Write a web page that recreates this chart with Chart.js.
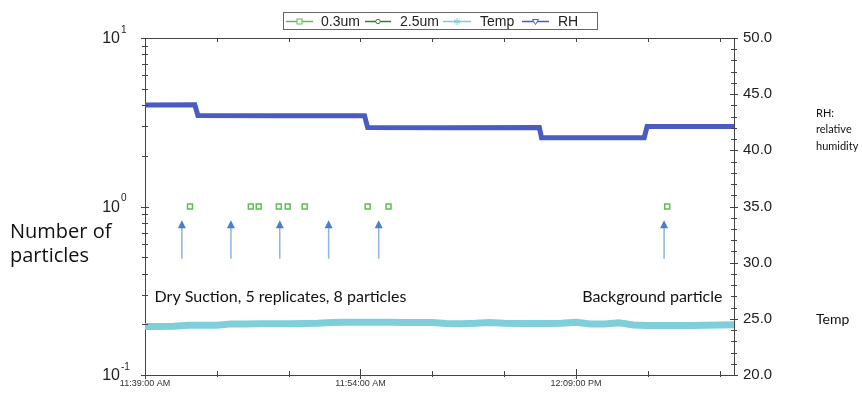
<!DOCTYPE html>
<html><head><meta charset="utf-8">
<script src="https://cdn.jsdelivr.net/npm/chart.js@4"></script>
<style>html,body{margin:0;padding:0;background:#fff;}#wrap{width:862px;height:393px;position:relative;}canvas{display:block;}</style>
</head><body><div id="wrap"><canvas id="c" width="862" height="393" style="width:862px;height:393px"></canvas></div>
<script>
// ---------- data ----------
const seriesNames = ["0.3um", "2.5um", "Temp", "RH"];
const xTickLabels = {0: "11:39:00 AM", 15: "11:54:00 AM", 30: "12:09:00 PM"};
const xStart = "11:39:00";
const xEnd = "12:20:00";
const leftTickLabels = [["10", "-1"], ["10", "0"], ["10", "1"]];
const leftTickValues = [0.1, 1, 10];

const p03Times = ["11:42:08","11:46:22","11:46:55","11:48:19","11:48:56","11:50:07","11:54:30","11:55:57","12:15:21"];
const p03Counts = [1, 1, 1, 1, 1, 1, 1, 1, 1];
const p25Times = [];
const p25Counts = [];

const tempTimes = ["11:39:00","11:40:00","11:41:00","11:42:00","11:43:00","11:44:00","11:45:00","11:46:00","11:47:00","11:48:00",
  "11:49:00","11:50:00","11:51:00","11:52:00","11:53:00","11:54:00","11:55:00","11:56:00","11:57:00","11:58:00",
  "11:59:00","12:00:00","12:01:00","12:02:00","12:03:00","12:04:00","12:05:00","12:06:00","12:07:00","12:08:00",
  "12:09:00","12:10:00","12:11:00","12:12:00","12:13:00","12:14:00","12:15:00","12:16:00","12:17:00","12:18:00",
  "12:19:00","12:20:00"];
const tempValues = [24.31,24.32,24.34,24.43,24.43,24.43,24.55,24.55,24.56,24.56,
  24.57,24.58,24.60,24.68,24.70,24.70,24.70,24.69,24.68,24.67,
  24.67,24.58,24.57,24.60,24.67,24.60,24.58,24.58,24.58,24.60,
  24.70,24.55,24.55,24.65,24.45,24.40,24.40,24.40,24.40,24.42,
  24.45,24.48];

const rhTimes = ["11:39:00","11:42:28","11:42:41","11:48:00","11:54:17","11:54:30","12:00:00","12:06:27","12:06:36","12:10:00","12:13:45","12:13:57","12:20:00"];
const rhValues = [44.04,44.05,43.10,43.08,43.07,42.03,42.02,42.03,41.13,41.12,41.13,42.12,42.12];

const arrowTimes = ["11:41:34","11:44:59","11:48:23","11:51:47","11:55:16","12:15:08"];
const arrowTail = 0.49, arrowTip = 0.83;

const notes = [
  {text: "Dry Suction, 5 replicates, 8 particles", t: "11:39:40", v: 0.29},
  {text: "Background particle", t: "12:09:26", v: 0.29}
];

// ---------- helpers ----------
const toBase = (() => { const [h, m, s] = xStart.split(":").map(Number); return h * 60 + m + s / 60; })();
function toMin(t) {
  const [h, m, s] = t.split(":").map(Number);
  return h * 60 + m + s / 60 - toBase;
}
const pts = (ts, vs) => ts.map((t, i) => ({x: toMin(t), y: vs[i]}));

const C03 = "#5cbf4c", C25 = "#2e7d32", CT = "#7ecfda", CRH = "#4a5cc2";
const AXIS = "#444";
const SANS = "'Liberation Sans', Arial, sans-serif";
const CAL = "Lato, 'Open Sans', sans-serif";

// ---------- plugin ----------
const deco = {
  id: "deco",
  afterDraw(chart) {
    const ctx = chart.ctx, a = chart.chartArea;
    const xs = chart.scales.x, yl = chart.scales.y, yr = chart.scales.y2;
    ctx.save();
    ctx.strokeStyle = AXIS; ctx.lineWidth = 1;
    ctx.beginPath(); ctx.moveTo(a.left, a.top + 0.5); ctx.lineTo(a.right, a.top + 0.5); ctx.stroke();
    for (let m = 0; m <= toMin(xEnd) + 1e-6; m += 5) {
      const px = Math.round(xs.getPixelForValue(m)) + 0.5;
      const big = (m % 15 === 0);
      ctx.beginPath();
      ctx.moveTo(px, a.bottom - (big ? 6 : 4)); ctx.lineTo(px, a.bottom + (big ? 4 : 2));
      ctx.moveTo(px, a.top); ctx.lineTo(px, a.top + 4);
      ctx.stroke();
    }
    for (let e = -1; e <= 1; e++) {
      for (let k = 1; k <= 9; k++) {
        const v = k * Math.pow(10, e);
        const py = Math.round(yl.getPixelForValue(v)) + 0.5;
        const w = (k === 1) ? 4 : 3;
        ctx.beginPath(); ctx.moveTo(a.left - w, py); ctx.lineTo(a.left + w, py); ctx.stroke();
        if (e === 1) break;
      }
    }
    for (let v = 20; v <= 50; v++) {
      const py = Math.round(yr.getPixelForValue(v)) + 0.5;
      const w = (v % 5 === 0) ? 4 : 3;
      ctx.beginPath(); ctx.moveTo(a.right - w, py); ctx.lineTo(a.right + w, py); ctx.stroke();
    }
    ctx.fillStyle = "#222";
    leftTickValues.forEach((v, i) => {
      const py = yl.getPixelForValue(v);
      ctx.font = "16px " + SANS; ctx.textAlign = "right"; ctx.textBaseline = "middle";
      ctx.fillText(leftTickLabels[i][0], 120, py + 1);
      ctx.font = "10px " + SANS; ctx.textAlign = "left";
      ctx.fillText(leftTickLabels[i][1], 121, py - 8);
    });
    arrowTimes.forEach(t => {
      const px = xs.getPixelForValue(toMin(t));
      const y1 = yl.getPixelForValue(arrowTail), y2 = yl.getPixelForValue(arrowTip);
      ctx.strokeStyle = "#8fb4e0"; ctx.lineWidth = 1.5;
      ctx.beginPath(); ctx.moveTo(px, y1); ctx.lineTo(px, y2 + 6); ctx.stroke();
      ctx.fillStyle = "#4d7fc6";
      ctx.beginPath(); ctx.moveTo(px, y2); ctx.lineTo(px - 4, y2 + 8); ctx.lineTo(px + 4, y2 + 8); ctx.closePath(); ctx.fill();
    });
    ctx.fillStyle = "#111"; ctx.font = "16px " + CAL; ctx.textAlign = "left"; ctx.textBaseline = "middle";
    notes.forEach(n => ctx.fillText(n.text, xs.getPixelForValue(toMin(n.t)), yl.getPixelForValue(n.v)));
    ctx.font = "20px 'Open Sans', Lato, sans-serif";
    ctx.fillText("Number of", 10, 232);
    ctx.fillText("particles", 10, 256);
    ctx.font = "11px " + CAL;
    ctx.fillText("RH:", 816, 113);
    ctx.fillText("relative", 816, 129);
    ctx.fillText("humidity", 816, 146);
    ctx.font = "14px " + CAL;
    ctx.fillText("Temp", 816, 319);
    ctx.strokeStyle = "#666"; ctx.lineWidth = 1;
    ctx.strokeRect(283.5, 12.5, 314, 17);
    const items = [
      {x1: 286, x2: 313, tx: 321, c: C03, m: "rect"},
      {x1: 365, x2: 391, tx: 400, c: C25, m: "circle"},
      {x1: 443, x2: 471, tx: 480, c: CT, m: "star"},
      {x1: 522, x2: 549, tx: 558, c: CRH, m: "tri"}
    ];
    const ly = 21.5;
    items.forEach((it, i) => {
      ctx.strokeStyle = it.c; ctx.lineWidth = 1.5;
      ctx.beginPath(); ctx.moveTo(it.x1, ly); ctx.lineTo(it.x2, ly); ctx.stroke();
      const cx = (it.x1 + it.x2) / 2;
      ctx.lineWidth = 1;
      ctx.fillStyle = "#fff";
      if (it.m === "rect") { ctx.fillRect(cx - 2.5, ly - 2.5, 5, 5); ctx.strokeRect(cx - 2.5, ly - 2.5, 5, 5); }
      else if (it.m === "circle") { ctx.beginPath(); ctx.arc(cx, ly, 2.2, 0, Math.PI * 2); ctx.fill(); ctx.stroke(); }
      else if (it.m === "star") {
        ctx.beginPath();
        for (let k = 0; k < 3; k++) { const an = k * Math.PI / 3 + Math.PI / 2; ctx.moveTo(cx + 3.5 * Math.cos(an), ly + 3.5 * Math.sin(an)); ctx.lineTo(cx - 3.5 * Math.cos(an), ly - 3.5 * Math.sin(an)); }
        ctx.stroke();
      } else {
        ctx.beginPath(); ctx.moveTo(cx - 3, ly - 2); ctx.lineTo(cx + 3, ly - 2); ctx.lineTo(cx, ly + 3); ctx.closePath(); ctx.fill(); ctx.stroke();
      }
      ctx.fillStyle = "#222"; ctx.font = "14px " + SANS; ctx.textAlign = "left"; ctx.textBaseline = "middle";
      ctx.fillText(seriesNames[i], it.tx, ly + 0.5);
    });
    ctx.restore();
  }
};

new Chart(document.getElementById("c"), {
  type: "line",
  data: {
    datasets: [
      {label: seriesNames[0], data: pts(p03Times, p03Counts), yAxisID: "y", showLine: false,
       pointStyle: "rect", pointRadius: 3.5, borderColor: C03, backgroundColor: "#fff", pointBorderWidth: 1.5},
      {label: seriesNames[1], data: pts(p25Times, p25Counts), yAxisID: "y", showLine: false,
       pointStyle: "circle", pointRadius: 3, borderColor: C25, backgroundColor: "#fff"},
      {label: seriesNames[2], data: pts(tempTimes, tempValues), yAxisID: "y2", borderColor: CT,
       borderWidth: 7, pointRadius: 0, tension: 0, fill: false},
      {label: seriesNames[3], data: pts(rhTimes, rhValues), yAxisID: "y2", borderColor: CRH,
       borderWidth: 5, pointRadius: 0, tension: 0, fill: false}
    ]
  },
  options: {
    responsive: false, animation: false, maintainAspectRatio: false, devicePixelRatio: 1,
    layout: {padding: {top: 38, left: 0, right: 0, bottom: 0}},
    plugins: {legend: {display: false}, tooltip: {enabled: false}},
    scales: {
      x: {type: "linear", position: "bottom", min: 0, max: toMin(xEnd),
        grid: {drawOnChartArea: false, drawTicks: false}, border: {color: AXIS},
        ticks: {stepSize: 5, autoSkip: false, maxRotation: 0, padding: 3,
          font: {size: 9, family: SANS}, color: "#333",
          callback: v => xTickLabels[v] || ""},
        afterFit: s => { s.height = 18; }},
      y: {type: "logarithmic", position: "left", min: 0.1, max: 10,
        grid: {drawOnChartArea: false, drawTicks: false}, border: {color: AXIS},
        ticks: {callback: () => ""},
        afterFit: s => { s.width = 145; }},
      y2: {type: "linear", position: "right", min: 20, max: 50,
        grid: {drawOnChartArea: false, drawTicks: false}, border: {color: AXIS},
        ticks: {stepSize: 1, autoSkip: false, padding: 9, font: {size: 15, family: SANS}, color: "#222",
          callback: v => (v % 5 === 0 ? v.toFixed(1) : "")},
        afterFit: s => { s.width = 128; }}
    }
  },
  plugins: [deco]
});
</script>
</body></html>
